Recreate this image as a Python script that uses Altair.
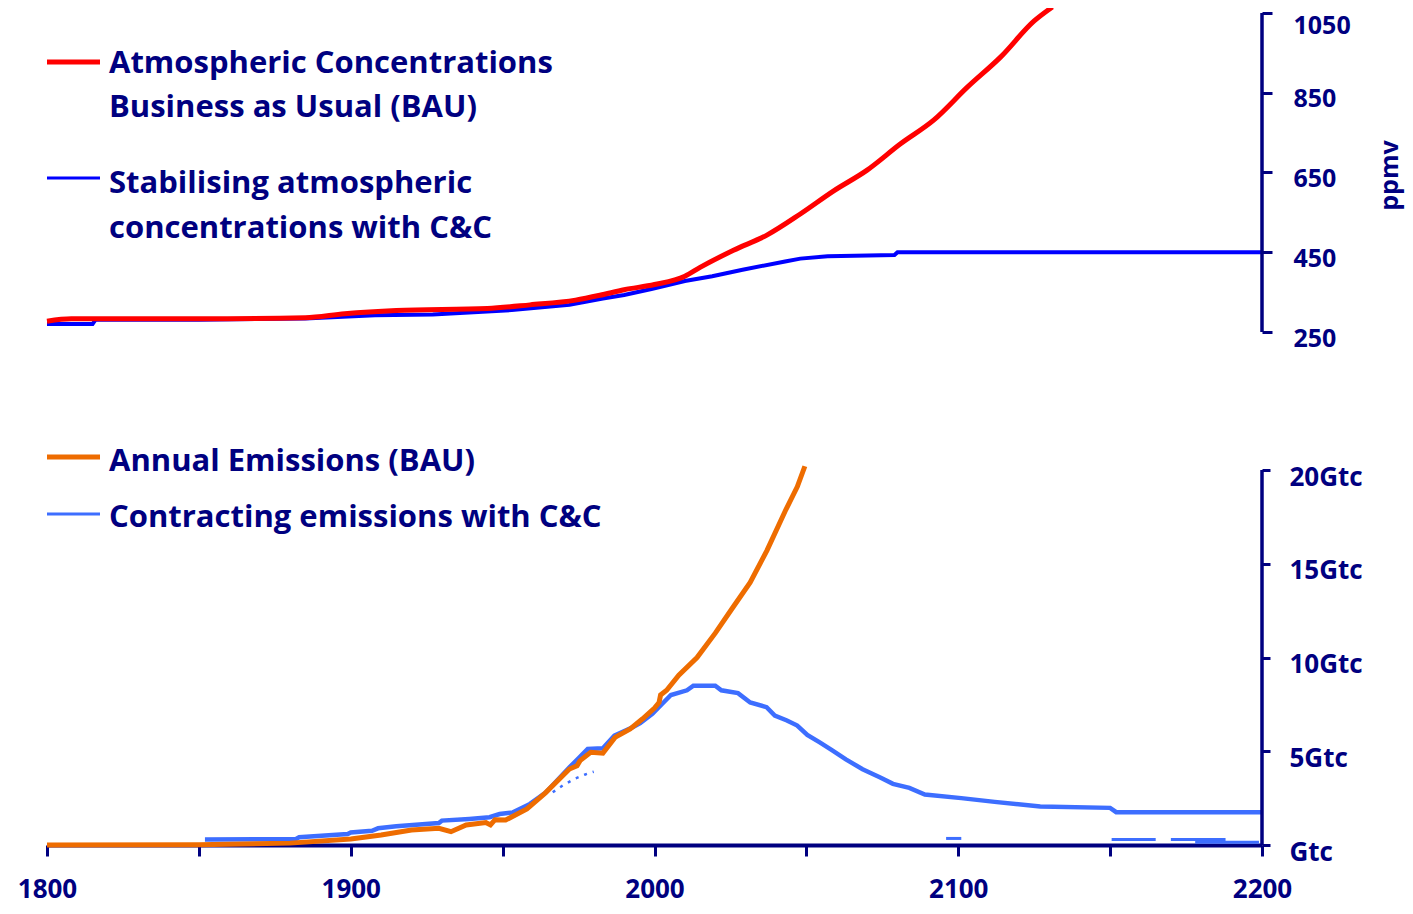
import altair as alt
import pandas as pd

# ---------------- data ----------------
# Top panel: atmospheric concentrations (ppmv)
bau_ppm_years = [1800, 1808, 1850, 1885, 1898, 1915, 1945, 1959, 1974, 1982, 1990, 2000,
                 2010, 2015, 2026, 2037, 2048, 2059, 2070, 2081, 2092, 2103, 2114, 2125, 2131]
bau_ppm = [277, 283, 283, 286, 296, 304, 309, 318, 330, 342, 356, 369,
           390, 412, 455, 493, 546, 604, 656, 722, 782, 864, 940, 1030, 1065]

cc_ppm_years = [1800, 1815, 1816, 1850, 1885, 1908, 1927, 1953, 1972, 1983, 1990, 1999,
                2010, 2019, 2029, 2043, 2048, 2057, 2079, 2080, 2200]
cc_ppm = [270, 270, 281, 281, 284, 292, 294, 305, 318, 334, 343, 358,
          378, 390, 406, 427, 434, 440, 443, 450, 450]

# Bottom panel: annual emissions (Gtc)
bau_gtc_years = [1800, 1850, 1880, 1900, 1910, 1920, 1929, 1933, 1938, 1944.5, 1946, 1947.5,
                 1951, 1958, 1964, 1972, 1974.5, 1975.5, 1979, 1983, 1987, 1992, 1996, 2000,
                 2001.5, 2002, 2004, 2008, 2014, 2020, 2025.5, 2031.5, 2037, 2043, 2047, 2049.5]
bau_gtc = [0, 0.02, 0.1, 0.32, 0.53, 0.8, 0.89, 0.71, 1.07, 1.2, 1.07, 1.35,
           1.33, 1.92, 2.77, 4.05, 4.23, 4.5, 4.94, 4.9, 5.74, 6.19, 6.72, 7.3,
           7.6, 8.0, 8.25, 9.06, 10.0, 11.3, 12.6, 14.0, 15.7, 17.8, 19.1, 20.2]

cc_gtc_years = [1852, 1882, 1883, 1899, 1900, 1907, 1909, 1915, 1929, 1930, 1939, 1945.7,
                1949, 1953.4, 1959, 1964.3, 1972, 1975.3, 1978, 1983, 1986.8, 1992.8, 1995.3,
                1999.3, 2002, 2005.4, 2010.7, 2012.8, 2020, 2022, 2027.5, 2031.5, 2036.9,
                2039.6, 2043.6, 2047, 2050.3, 2054.4, 2058.4, 2063, 2068.5, 2074.5, 2078.5,
                2083.9, 2089, 2101, 2112, 2127, 2150, 2152, 2200]
cc_gtc = [0.3, 0.32, 0.41, 0.59, 0.67, 0.76, 0.89, 1.0, 1.17, 1.3, 1.39, 1.48,
          1.65, 1.74, 2.19, 2.81, 4.14, 4.68, 5.12, 5.16, 5.83, 6.28, 6.5,
          7.0, 7.44, 8.0, 8.25, 8.5, 8.5, 8.25, 8.1, 7.6, 7.35,
          6.9, 6.64, 6.37, 5.87, 5.47, 5.06, 4.57, 4.04, 3.59, 3.26,
          3.05, 2.69, 2.5, 2.3, 2.05, 1.98, 1.75, 1.75]

# small stray fragments of the C&C trace visible in the original
frag_dot_years = [1966.5, 1970, 1974, 1977, 1980]
frag_dot_gtc = [2.81, 3.2, 3.55, 3.75, 3.91]
frag_seg = ["a", "a", "b", "b", "c", "c", "d", "d"]
frag_years = [2096, 2101, 2150.5, 2165, 2170, 2188, 2178, 2199]
frag_gtc = [0.35, 0.35, 0.3, 0.3, 0.3, 0.3, 0.15, 0.15]

x_ticks = [1800, 1850, 1900, 1950, 2000, 2050, 2100, 2150, 2200]
ppm_ticks = [250, 450, 650, 850, 1050]
gtc_ticks = [0, 5, 10, 15, 20]

legend_top = ["Atmospheric Concentrations", "Business as Usual (BAU)",
              "Stabilising atmospheric", "concentrations with C&C"]
legend_bottom = ["Annual Emissions (BAU)", "Contracting emissions with C&C"]

# ---------------- styling / layout ----------------
NAVY = "#000080"
RED = "#FF0000"
BLUE = "#0000FF"
ORANGE = "#EE6C00"
LBLUE = "#3D6EFF"
FONT = "Open Sans"

W, H = 1215, 832
TOP_PX = 319      # pixel height of 250..1050 ppmv band
BOT_PX = 375      # pixel height of 0..20 Gtc band
PPM_DOMAIN = [1050 - H * 800 / TOP_PX, 1050]
GTC_DOMAIN = [0, H * 20 / BOT_PX]

xscale = alt.Scale(domain=[1800, 2200], nice=False, zero=False)
xaxis = alt.Axis(values=x_ticks, format="d",
                 labelExpr="datum.value % 100 == 0 ? datum.label : ''",
                 title=None, grid=False, domainColor=NAVY, domainWidth=4,
                 tickColor=NAVY, tickWidth=3, tickSize=11,
                 labelFont=FONT, labelFontSize=26, labelFontWeight="bold",
                 labelColor=NAVY, labelPadding=20, labelFlush=False,
                 labelOverlap=False)

ppm_axis = alt.Axis(orient="right", values=ppm_ticks, format="d", domain=False, grid=False,
                    tickColor=NAVY, tickWidth=3, tickSize=10,
                    labelFont=FONT, labelFontSize=25, labelFontWeight="bold",
                    labelColor=NAVY, labelPadding=21, labelAlign="left",
                    labelOffset={"condition": {"test": "datum.value >= 1000", "value": 12},
                                 "value": 6},
                    labelOverlap=False,
                    title="ppmv", titleAngle=270, titleX=127, titleY=162,
                    titleFont=FONT, titleFontSize=25, titleFontWeight="bold",
                    titleColor=NAVY, titleAlign="center", titleBaseline="middle")

gtc_axis = alt.Axis(orient="right", values=gtc_ticks, format="d", domain=False, grid=False,
                    labelExpr="datum.value == 0 ? 'Gtc' : datum.label + 'Gtc'",
                    tickColor=NAVY, tickWidth=3, tickSize=8,
                    labelFont=FONT, labelFontSize=26, labelFontWeight="bold",
                    labelColor=NAVY, labelPadding=19, labelAlign="left",
                    labelOffset=7, labelOverlap=False, title=None)


def ytop(field):
    return alt.Y(field, scale=alt.Scale(domain=PPM_DOMAIN, nice=False, zero=False),
                 axis=ppm_axis)


def ybot(field):
    return alt.Y(field, scale=alt.Scale(domain=GTC_DOMAIN, nice=False, zero=False),
                 axis=gtc_axis)


X = alt.X("year:Q", scale=xscale, axis=xaxis)

df_bau_ppm = pd.DataFrame({"year": bau_ppm_years, "ppm": bau_ppm})
df_cc_ppm = pd.DataFrame({"year": cc_ppm_years, "ppm": cc_ppm})
df_bau_gtc = pd.DataFrame({"year": bau_gtc_years, "gtc": bau_gtc})
df_cc_gtc = pd.DataFrame({"year": cc_gtc_years, "gtc": cc_gtc})
df_frag_dot = pd.DataFrame({"year": frag_dot_years, "gtc": frag_dot_gtc})
df_frag = pd.DataFrame({"seg": frag_seg, "year": frag_years, "gtc": frag_gtc})
df_ppm_dom = pd.DataFrame({"year": [x_ticks[-1]], "lo": [min(ppm_ticks)], "hi": [max(ppm_ticks)]})
df_gtc_dom = pd.DataFrame({"year": [x_ticks[-1]], "lo": [min(gtc_ticks)], "hi": [max(gtc_ticks)]})

# ---------------- top panel ----------------
cc_top = alt.Chart(df_cc_ppm).mark_line(color=BLUE, strokeWidth=4).encode(
    x=X, y=ytop("ppm:Q"))
bau_top = alt.Chart(df_bau_ppm).mark_line(color=RED, strokeWidth=5,
                                         interpolate="monotone").encode(
    x=X, y=ytop("ppm:Q"))
dom_top = alt.Chart(df_ppm_dom).mark_rule(color=NAVY, strokeWidth=3.5).encode(
    x=X, y=ytop("lo:Q"), y2="hi:Q")
top = alt.layer(cc_top, bau_top, dom_top)

# ---------------- bottom panel ----------------
cc_bot = alt.Chart(df_cc_gtc).mark_line(color=LBLUE, strokeWidth=4.5).encode(
    x=X, y=ybot("gtc:Q"))
frag_dot = alt.Chart(df_frag_dot).mark_line(color=LBLUE, strokeWidth=2.5,
                                           strokeDash=[3, 6]).encode(
    x=X, y=ybot("gtc:Q"))
frag = alt.Chart(df_frag).mark_line(color=LBLUE, strokeWidth=3).encode(
    x=X, y=ybot("gtc:Q"), detail="seg:N")
bau_bot = alt.Chart(df_bau_gtc).mark_line(color=ORANGE, strokeWidth=5).encode(
    x=X, y=ybot("gtc:Q"))
dom_bot = alt.Chart(df_gtc_dom).mark_rule(color=NAVY, strokeWidth=3.5).encode(
    x=X, y=ybot("lo:Q"), y2="hi:Q")
bottom = alt.layer(cc_bot, frag_dot, frag, bau_bot, dom_bot)

# ---------------- legend (drawn as annotations) ----------------
base = alt.Chart(pd.DataFrame({"k": [0]}))
swatches = [(RED, 5, 49), (BLUE, 3, 165), (ORANGE, 5, 444), (LBLUE, 3, 501)]
legend_layers = []
for col, sw, yy in swatches:
    legend_layers.append(base.mark_rule(color=col, strokeWidth=sw).encode(
        x=alt.value(0), x2=alt.value(53), y=alt.value(yy)))
text_y_top = [51, 95, 171, 216]
text_y_bot = [449, 505]
for label, yy in zip(legend_top + legend_bottom, text_y_top + text_y_bot):
    legend_layers.append(base.mark_text(font=FONT, fontSize=31, fontWeight="bold",
                                        color=NAVY, align="left", baseline="middle").encode(
        x=alt.value(62), y=alt.value(yy), text=alt.value(label)))

chart = alt.layer(top, bottom, *legend_layers).resolve_scale(y="independent").properties(
    width=W, height=H,
    autosize=alt.AutoSizeParams(type="none"),
    padding={"left": 39, "top": 5, "right": 143, "bottom": 59},
    view=alt.ViewBackground(stroke="transparent", strokeWidth=0),
).configure_view(stroke="transparent", strokeWidth=0, strokeOpacity=0).configure(
    font=FONT, background="white")

chart.save("out.html", embed_options={"renderer": "svg", "actions": False})
